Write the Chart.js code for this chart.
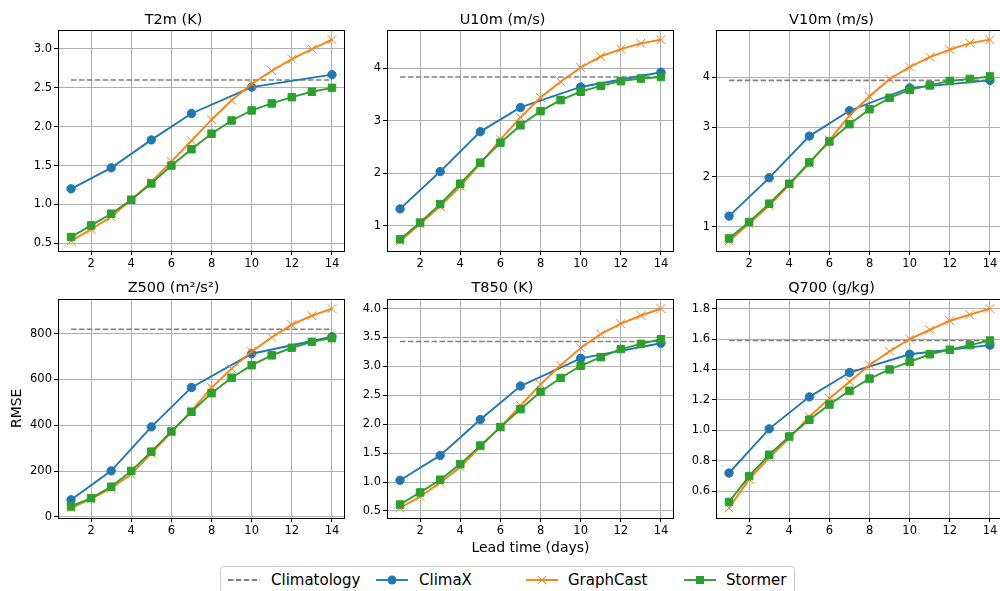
<!DOCTYPE html>
<html>
<head>
<meta charset="utf-8">
<script src="https://cdn.jsdelivr.net/npm/chart.js@4.4.1/dist/chart.umd.min.js"></script>
<style>
  body { margin: 0; width: 1000px; height: 591px; overflow: hidden; background: #fff; position: relative; font-family: "DejaVu Sans", sans-serif; }
  canvas.panel { position: absolute; }
  #legend { position: absolute; left: 220px; top: 566px; width: 575px; height: 40px; border: 1px solid #cccccc; border-radius: 4px; box-sizing: border-box; }
  #legend canvas, #legend span { position: absolute; }
  #legend span { font-size: 15px; color: #000; line-height: 18px; top: 4px; white-space: nowrap; }
</style>
</head>
<body>
<div id="legend"></div>
<script>
// lead times (days)
const days = [1, 2, 3, 4, 5, 6, 7, 8, 9, 10, 11, 12, 13, 14];
const climaxDays = [1, 3, 5, 7, 10, 14];
const xTicks = [2, 4, 6, 8, 10, 12, 14];

// T2m (K)
const t2mClimax = [1.20, 1.47, 1.83, 2.17, 2.51, 2.67];
const t2mGraphcast = [0.53, 0.68, 0.84, 1.06, 1.29, 1.55, 1.82, 2.09, 2.34, 2.55, 2.72, 2.87, 3.00, 3.12];
const t2mStormer = [0.58, 0.73, 0.88, 1.06, 1.27, 1.50, 1.71, 1.91, 2.08, 2.21, 2.30, 2.38, 2.45, 2.50];
const t2mClim = 2.60;
const t2mTicks = [0.5, 1.0, 1.5, 2.0, 2.5, 3.0];

// U10m (m/s)
const u10Climax = [1.32, 2.03, 2.79, 3.25, 3.64, 3.92];
const u10Graphcast = [0.71, 1.03, 1.37, 1.75, 2.18, 2.64, 3.06, 3.44, 3.74, 4.01, 4.22, 4.36, 4.47, 4.54];
const u10Stormer = [0.74, 1.06, 1.41, 1.80, 2.20, 2.58, 2.91, 3.18, 3.39, 3.55, 3.66, 3.75, 3.80, 3.83];
const u10Clim = 3.83;
const u10Ticks = [1, 2, 3, 4];

// V10m (m/s)
const v10Climax = [1.21, 1.98, 2.82, 3.33, 3.79, 3.94];
const v10Graphcast = [0.71, 1.06, 1.42, 1.84, 2.27, 2.74, 3.23, 3.62, 3.97, 4.21, 4.41, 4.56, 4.69, 4.76];
const v10Stormer = [0.76, 1.09, 1.46, 1.86, 2.29, 2.71, 3.06, 3.36, 3.59, 3.75, 3.84, 3.93, 3.97, 4.02];
const v10Clim = 3.94;
const v10Ticks = [1, 2, 3, 4];

// Z500 (m2/s2)
const z500Climax = [75, 201, 393, 565, 712, 786];
const z500Graphcast = [39, 79, 125, 187, 278, 370, 463, 564, 647, 722, 784, 839, 878, 909];
const z500Stormer = [46, 82, 132, 201, 285, 373, 459, 540, 607, 662, 705, 738, 764, 780];
const z500Clim = 819;
const z500Ticks = [0, 200, 400, 600, 800];

// T850 (K)
const t850Climax = [1.03, 1.46, 2.08, 2.66, 3.14, 3.40];
const t850Graphcast = [0.55, 0.75, 0.99, 1.26, 1.61, 1.95, 2.32, 2.69, 3.02, 3.32, 3.56, 3.74, 3.88, 4.00];
const t850Stormer = [0.61, 0.82, 1.04, 1.31, 1.63, 1.95, 2.26, 2.56, 2.80, 3.01, 3.16, 3.30, 3.39, 3.47];
const t850Clim = 3.43;
const t850Ticks = [0.5, 1.0, 1.5, 2.0, 2.5, 3.0, 3.5, 4.0];

// Q700 (g/kg)
const q700Climax = [0.72, 1.01, 1.22, 1.38, 1.50, 1.56];
const q700Graphcast = [0.49, 0.68, 0.82, 0.95, 1.09, 1.21, 1.32, 1.43, 1.52, 1.60, 1.66, 1.72, 1.76, 1.80];
const q700Stormer = [0.53, 0.70, 0.84, 0.96, 1.07, 1.17, 1.26, 1.34, 1.40, 1.45, 1.50, 1.53, 1.56, 1.59];
const q700Clim = 1.59;
const q700Ticks = [0.6, 0.8, 1.0, 1.2, 1.4, 1.6, 1.8];

const BLUE = '#1f77b4', ORANGE = '#ff7f0e', GREEN = '#2ca02c', GREY = '#808080';

Chart.defaults.font.family = '"DejaVu Sans", sans-serif';
Chart.defaults.color = '#000';

// plot boxes [left, top, right, bottom] in page pixels
const cols = [[58, 345], [387, 674], [716, 1003]];
const rows = [[29, 251], [298, 518]];
const YW = 56, TOPH = 29, XH = 40, RP = 14;

const panels = [
  { title: 'T2m (K)', climax: t2mClimax, graphcast: t2mGraphcast, stormer: t2mStormer, clim: t2mClim, ticks: t2mTicks, dec: 1, c: 0, r: 0 },
  { title: 'U10m (m/s)', climax: u10Climax, graphcast: u10Graphcast, stormer: u10Stormer, clim: u10Clim, ticks: u10Ticks, dec: 0, c: 1, r: 0 },
  { title: 'V10m (m/s)', climax: v10Climax, graphcast: v10Graphcast, stormer: v10Stormer, clim: v10Clim, ticks: v10Ticks, dec: 0, c: 2, r: 0 },
  { title: 'Z500 (m²/s²)', climax: z500Climax, graphcast: z500Graphcast, stormer: z500Stormer, clim: z500Clim, ticks: z500Ticks, dec: 0, c: 0, r: 1, yTitle: 'RMSE' },
  { title: 'T850 (K)', climax: t850Climax, graphcast: t850Graphcast, stormer: t850Stormer, clim: t850Clim, ticks: t850Ticks, dec: 1, c: 1, r: 1, xTitle: 'Lead time (days)' },
  { title: 'Q700 (g/kg)', climax: q700Climax, graphcast: q700Graphcast, stormer: q700Stormer, clim: q700Clim, ticks: q700Ticks, dec: 1, c: 2, r: 1 }
];

// black box round the plot area
const frame = {
  id: 'frame',
  afterDraw(chart) {
    const a = chart.chartArea, ctx = chart.ctx;
    ctx.save();
    ctx.strokeStyle = '#000';
    ctx.lineWidth = 1;
    ctx.strokeRect(Math.round(a.left) + 0.5, Math.round(a.top) + 0.5, Math.round(a.right - a.left) - 1, Math.round(a.bottom - a.top));
    ctx.restore();
  }
};

function makePanel(p) {
  const [L, R] = cols[p.c], [T, B] = rows[p.r];
  const cv = document.createElement('canvas');
  cv.className = 'panel';
  cv.width = R - L + YW + RP;
  cv.height = B - T + TOPH + XH;
  cv.style.left = (L - YW) + 'px';
  cv.style.top = (T - TOPH) + 'px';
  document.body.appendChild(cv);

  // matplotlib-like 5% margins
  const all = p.climax.concat(p.graphcast, p.stormer, [p.clim]);
  const lo = Math.min(...all), hi = Math.max(...all), m = (hi - lo) * 0.05;
  const xm = (days[days.length - 1] - days[0]) * 0.05;

  const titlePad = p.r === 0 ? { top: 12, bottom: 0.2 } : { top: 10.6, bottom: 1.6 };

  new Chart(cv, {
    type: 'line',
    data: {
      datasets: [
        { label: 'Climatology', data: [{ x: days[0], y: p.clim }, { x: days[days.length - 1], y: p.clim }],
          borderColor: GREY, borderDash: [5.5, 2.4], borderWidth: 1.6, pointRadius: 0, order: 4 },
        { label: 'ClimaX', data: climaxDays.map((d, i) => ({ x: d, y: p.climax[i] })),
          borderColor: BLUE, backgroundColor: BLUE, borderWidth: 1.9, pointStyle: 'circle', pointRadius: 4.2, pointBorderWidth: 1, order: 3 },
        { label: 'GraphCast', data: days.map((d, i) => ({ x: d, y: p.graphcast[i] })),
          borderColor: ORANGE, backgroundColor: ORANGE, borderWidth: 1.9, pointStyle: 'crossRot', pointRadius: 6.2, pointBorderWidth: 1, order: 2 },
        { label: 'Stormer', data: days.map((d, i) => ({ x: d, y: p.stormer[i] })),
          borderColor: GREEN, backgroundColor: GREEN, borderWidth: 1.9, pointStyle: 'rect', pointRadius: 5.3, pointBorderWidth: 1, order: 1 }
      ]
    },
    options: {
      responsive: false,
      animation: false,
      layout: { padding: { left: 0, right: RP, top: 0, bottom: 0 } },
      plugins: {
        legend: { display: false },
        tooltip: { enabled: false },
        title: { display: true, text: p.title, color: '#000', font: { size: 14.5, weight: 'normal' }, padding: titlePad }
      },
      scales: {
        x: {
          type: 'linear',
          min: days[0] - xm, max: days[days.length - 1] + xm,
          afterBuildTicks: s => { s.ticks = xTicks.map(v => ({ value: v })); },
          afterFit: s => { s.height = XH; },
          grid: { color: '#b0b0b0', tickColor: '#000', tickLength: 4, lineWidth: 1 },
          border: { display: false },
          ticks: { font: { size: 11.5 }, color: '#000', padding: 2, maxRotation: 0, autoSkip: false, callback: v => String(v) },
          title: p.xTitle ? { display: true, text: p.xTitle, color: '#000', font: { size: 14 }, padding: { top: 0, bottom: 1.6 } } : { display: false }
        },
        y: {
          type: 'linear',
          min: lo - m, max: hi + m,
          afterBuildTicks: s => { s.ticks = p.ticks.map(v => ({ value: v })); },
          afterFit: s => { s.width = YW; },
          grid: { color: '#b0b0b0', tickColor: '#000', tickLength: 4, lineWidth: 1 },
          border: { display: false },
          ticks: { font: { size: 11.5 }, color: '#000', padding: 2, autoSkip: false, callback: v => v.toFixed(p.dec) },
          title: p.yTitle ? { display: true, text: p.yTitle, color: '#000', font: { size: 14 }, padding: { top: 6.6, bottom: 0 } } : { display: false }
        }
      }
    },
    plugins: [frame]
  });
}

panels.forEach(makePanel);

// legend
const legendNames = ['Climatology', 'ClimaX', 'GraphCast', 'Stormer'];
const legendColors = [GREY, BLUE, ORANGE, GREEN];
const legendMarkers = [null, 'circle', 'cross', 'square'];
const swatchX = [7, 155, 305, 463];
const textX = [50, 198, 347, 505];

const leg = document.getElementById('legend');
legendNames.forEach((name, i) => {
  const sw = document.createElement('canvas');
  sw.width = 32; sw.height = 14;
  sw.style.left = swatchX[i] + 'px';
  sw.style.top = '6px';
  leg.appendChild(sw);
  const g = sw.getContext('2d');
  g.strokeStyle = legendColors[i];
  g.fillStyle = legendColors[i];
  g.lineWidth = 1.9;
  if (i === 0) g.setLineDash([5.5, 2.4]);
  g.beginPath(); g.moveTo(0, 7); g.lineTo(32, 7); g.stroke();
  g.setLineDash([]);
  if (legendMarkers[i] === 'circle') { g.beginPath(); g.arc(16, 7, 4.5, 0, Math.PI * 2); g.fill(); }
  if (legendMarkers[i] === 'square') { g.fillRect(12, 3, 8, 8); }
  if (legendMarkers[i] === 'cross') {
    g.lineWidth = 1;
    g.beginPath(); g.moveTo(12, 3); g.lineTo(20, 11); g.moveTo(20, 3); g.lineTo(12, 11); g.stroke();
  }
  const t = document.createElement('span');
  t.textContent = name;
  t.style.left = textX[i] + 'px';
  leg.appendChild(t);
});
</script>
</body>
</html>
